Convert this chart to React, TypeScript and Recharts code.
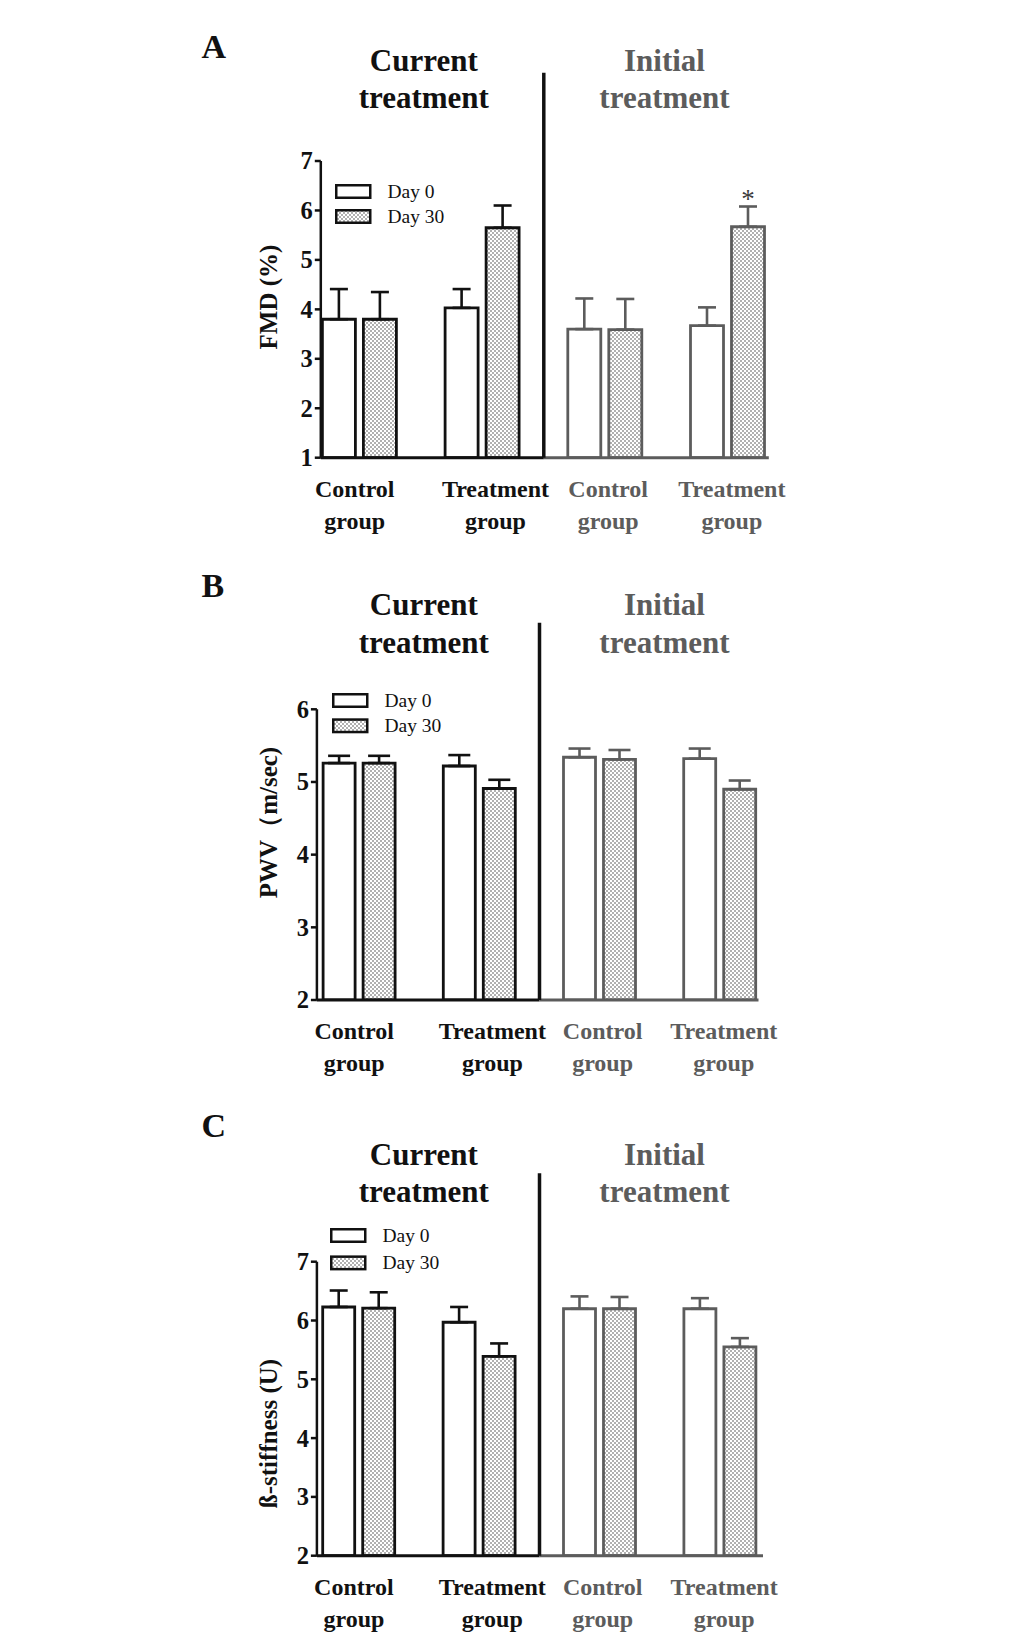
import React from 'react';
import { BarChart, Bar, XAxis, YAxis, Cell, ErrorBar, ReferenceLine, Legend, LabelList } from 'recharts';

const FONT = "'Liberation Serif', 'Times New Roman', Times, serif";
const INK = '#111111';
const GREY = '#5c5c5c';

// categories shared by the three panels
const categories = ['curControl', 'curTreatment', 'iniControl', 'iniTreatment'];
const categoryLines = [['Control', 'group'], ['Treatment', 'group'], ['Control', 'group'], ['Treatment', 'group']];
const categoryPhase = ['current', 'current', 'initial', 'initial'];
const phaseTitles = [['Current', 'treatment'], ['Initial', 'treatment']];
const seriesNames = ['Day 0', 'Day 30'];

// A: FMD (%)
const fmdTicks = [1, 2, 3, 4, 5, 6, 7];
const fmdDay0 = [3.8, 4.03, 3.6, 3.67];
const fmdDay0Err = [0.61, 0.38, 0.62, 0.37];
const fmdDay30 = [3.8, 5.65, 3.59, 5.67];
const fmdDay30Err = [0.55, 0.45, 0.62, 0.41];
const fmdMarks = ['', '', '', '*'];

// B: PWV (m/sec)
const pwvTicks = [2, 3, 4, 5, 6];
const pwvDay0 = [5.26, 5.22, 5.34, 5.32];
const pwvDay0Err = [0.1, 0.15, 0.12, 0.14];
const pwvDay30 = [5.26, 4.91, 5.31, 4.9];
const pwvDay30Err = [0.1, 0.12, 0.13, 0.12];
const pwvMarks = ['', '', '', ''];

// C: beta-stiffness (U)
const stiffTicks = [2, 3, 4, 5, 6, 7];
const stiffDay0 = [6.23, 5.97, 6.2, 6.2];
const stiffDay0Err = [0.28, 0.26, 0.21, 0.18];
const stiffDay30 = [6.21, 5.39, 6.2, 5.55];
const stiffDay30Err = [0.27, 0.22, 0.2, 0.15];
const stiffMarks = ['', '', '', ''];

// label nudges (px) and title centres
const LABEL_DX = [-5, 13, 3, 4];
const TITLE_X = [423.8, 664.5];

const layoutA = {
  top: 0, height: 560, plotTop: 161, plotBottom: 457.7, plotLeft: 320.8, plotRight: 768.8,
  bandStart: 298.4, bandEnd: 789.2, dividerTop: 72.7, titleBase: 70.7, letterBase: 58,
  legendX: 335.4, legendY: 183.5, legendGap: 25, yTitleX: 268.8, yTitleY: 297, barSize: 33, cap: 9,
};
const layoutB = {
  top: 560, height: 540, plotTop: 149.3, plotBottom: 440, plotLeft: 316.9, plotRight: 758.5,
  bandStart: 299.1, bandEnd: 779.9, dividerTop: 62.7, titleBase: 55, letterBase: 36.7,
  legendX: 331.5, legendY: 132.7, legendGap: 25.3, yTitleX: 268.8, yTitleY: 262.5, barSize: 32, cap: 11,
};
const layoutC = {
  top: 1100, height: 544, plotTop: 161.7, plotBottom: 455.7, plotLeft: 316.9, plotRight: 763,
  bandStart: 298.7, bandEnd: 780.3, dividerTop: 73.3, titleBase: 64.8, letterBase: 37.4,
  legendX: 329.6, legendY: 128.1, legendGap: 27.4, yTitleX: 268.8, yTitleY: 333.5, barSize: 32, cap: 9,
};

function buildRows(d0: number[], e0: number[], d30: number[], e30: number[], marks: string[]) {
  return categories.map((cat, i) => {
    const cur = categoryPhase[i] === 'current';
    return {
      cat,
      day0: d0[i],
      day30: d30[i],
      e0Cur: cur ? [0, e0[i]] : null,
      e0Ini: cur ? null : [0, e0[i]],
      e30Cur: cur ? [0, e30[i]] : null,
      e30Ini: cur ? null : [0, e30[i]],
      mark: marks[i],
    };
  });
}

const colorOf = (i: number) => (categoryPhase[i] === 'current' ? INK : GREY);

function CategoryTick(props: any) {
  const { x, y, payload } = props;
  const i = categories.indexOf(payload.value);
  const cx = x + LABEL_DX[i];
  const style = { fontFamily: FONT, fontSize: 24, fontWeight: 700, fill: colorOf(i) };
  return (
    <g>
      <text x={cx} y={y + 39} textAnchor="middle" style={style}>{categoryLines[i][0]}</text>
      <text x={cx} y={y + 71} textAnchor="middle" style={style}>{categoryLines[i][1]}</text>
    </g>
  );
}

function ValueTick(props: any) {
  const { x, y, payload } = props;
  return (
    <text x={x} y={y} dy={8.4} textAnchor="end"
      style={{ fontFamily: FONT, fontSize: 24.5, fontWeight: 700, fill: INK }}>
      {payload.value}
    </text>
  );
}

function LegendBox({ gap, patternId }: { gap: number; patternId: string }) {
  const textStyle = { fontFamily: FONT, fontSize: 19.5, fill: INK };
  return (
    <svg width={140} height={60} style={{ display: 'block', overflow: 'visible' }}>
      {seriesNames.map((name, k) => (
        <g key={name}>
          <rect x={7.25} y={7.25 + k * gap} width={34} height={12.5}
            fill={k === 0 ? '#fff' : `url(#${patternId})`} stroke={INK} strokeWidth={2.5} />
          <text x={58.5} y={20 + k * gap} style={textStyle}>{name}</text>
        </g>
      ))}
    </svg>
  );
}

function Panel({ p }: { p: any }) {
  const L = p.layout;
  const rows = buildRows(p.day0, p.day0Err, p.day30, p.day30Err, p.marks);
  const yMin = p.ticks[0];
  const yMax = p.ticks[p.ticks.length - 1];
  const unit = (yMax - yMin) / (L.plotBottom - L.plotTop);
  const dividerTopVal = yMin + (L.plotBottom - L.dividerTop) * unit;
  // deco axis: 0..3 = centres of the four category bands
  const bw = (L.bandEnd - L.bandStart) / 4;
  const c0 = L.bandStart + bw / 2;
  const c3 = L.bandEnd - bw / 2;
  const axisStart = (L.plotLeft - c0) / bw;
  const axisEnd = (L.plotRight - c0) / bw;
  const pad = { left: L.bandStart - L.plotLeft, right: L.plotRight - L.bandEnd };
  const decoPad = { left: c0 - L.plotLeft, right: L.plotRight - c3 };
  const patternId = `dots-${p.letter}`;
  const titleStyle = { fontFamily: FONT, fontSize: 31, fontWeight: 700 };

  return (
    <div style={{ position: 'absolute', left: 0, top: L.top }}>
      <BarChart
        width={1033}
        height={L.height}
        data={rows}
        barGap={8}
        margin={{ top: L.plotTop, left: L.plotLeft - 60, right: 1033 - L.plotRight, bottom: 0 }}
      >
        <defs>
          <pattern id={patternId} width={4} height={4} patternUnits="userSpaceOnUse">
            <rect width={4} height={4} fill="#fff" />
            <circle cx={1} cy={1} r={0.75} fill="#3a3a3a" />
            <circle cx={3} cy={3} r={0.75} fill="#3a3a3a" />
          </pattern>
        </defs>

        <XAxis dataKey="cat" interval={0} padding={pad} height={L.height - L.plotBottom}
          axisLine={false} tickLine={false} tickSize={0} tickMargin={0} tick={<CategoryTick />} />
        <XAxis xAxisId="deco" type="number" domain={[0, 3]} allowDataOverflow hide padding={decoPad} />
        <YAxis
          domain={[yMin, yMax]}
          ticks={p.ticks}
          interval={0}
          allowDataOverflow
          width={60}
          axisLine={{ stroke: INK, strokeWidth: 2.5 }}
          tickLine={{ stroke: INK, strokeWidth: 2.5 }}
          tickSize={6}
          tickMargin={2}
          tick={<ValueTick />}
        />

        <Legend
          layout="horizontal"
          verticalAlign="middle"
          align="center"
          wrapperStyle={{ position: 'absolute', left: L.legendX - 6, top: L.legendY - 6, width: 140, height: 60 }}
          content={() => <LegendBox gap={L.legendGap} patternId={patternId} />}
        />

        <Bar dataKey="day0" name={seriesNames[0]} barSize={L.barSize} strokeWidth={2.8} isAnimationActive={false}>
          {rows.map((r, i) => <Cell key={r.cat} fill="#fff" stroke={colorOf(i)} />)}
          <ErrorBar dataKey="e0Cur" direction="y" width={L.cap} stroke={INK} strokeWidth={2.6} isAnimationActive={false} />
          <ErrorBar dataKey="e0Ini" direction="y" width={L.cap} stroke={GREY} strokeWidth={2.6} isAnimationActive={false} />
        </Bar>
        <Bar dataKey="day30" name={seriesNames[1]} barSize={L.barSize} strokeWidth={2.8} isAnimationActive={false}>
          {rows.map((r, i) => <Cell key={r.cat} fill={`url(#${patternId})`} stroke={colorOf(i)} />)}
          <ErrorBar dataKey="e30Cur" direction="y" width={L.cap} stroke={INK} strokeWidth={2.6} isAnimationActive={false} />
          <ErrorBar dataKey="e30Ini" direction="y" width={L.cap} stroke={GREY} strokeWidth={2.6} isAnimationActive={false} />
          <LabelList
            dataKey="mark"
            content={(lp: any) =>
              lp.value ? (
                <text x={Number(lp.x) + Number(lp.width) / 2} y={Number(lp.y) - 19} textAnchor="middle"
                  style={{ fontFamily: FONT, fontSize: 27, fill: '#3c3c3c' }}>{lp.value}</text>
              ) : null
            }
          />
        </Bar>

        {/* x axis: black under current treatment, grey under initial treatment */}
        <ReferenceLine xAxisId="deco" ifOverflow="visible" stroke={INK} strokeWidth={3}
          segment={[{ x: axisStart, y: yMin }, { x: 1.5, y: yMin }]} />
        <ReferenceLine xAxisId="deco" ifOverflow="visible" stroke={GREY} strokeWidth={3}
          segment={[{ x: 1.5, y: yMin }, { x: axisEnd, y: yMin }]} />
        {/* divider between the two halves */}
        <ReferenceLine xAxisId="deco" ifOverflow="visible" stroke={INK} strokeWidth={3.5}
          segment={[{ x: 1.5, y: yMin }, { x: 1.5, y: dividerTopVal }]} />

        <text x={201.5} y={L.letterBase} style={{ fontFamily: FONT, fontSize: 34, fontWeight: 700, fill: INK }}>
          {p.letter}
        </text>
        {phaseTitles.map((lines, k) => (
          <g key={k} style={{ ...titleStyle, fill: k === 0 ? INK : GREY }}>
            <text x={TITLE_X[k]} y={L.titleBase} textAnchor="middle">{lines[0]}</text>
            <text x={TITLE_X[k]} y={L.titleBase + 37.5} textAnchor="middle">{lines[1]}</text>
          </g>
        ))}
        <text
          x={L.yTitleX}
          y={L.yTitleY}
          textAnchor="middle"
          dominantBaseline="central"
          transform={`rotate(-90 ${L.yTitleX} ${L.yTitleY})`}
          style={{ fontFamily: FONT, fontSize: 25, fontWeight: 700, fill: INK }}
        >
          {p.yTitle}
        </text>
      </BarChart>
    </div>
  );
}

const panels = [
  { letter: 'A', yTitle: 'FMD (%)', ticks: fmdTicks, day0: fmdDay0, day0Err: fmdDay0Err, day30: fmdDay30, day30Err: fmdDay30Err, marks: fmdMarks, layout: layoutA },
  { letter: 'B', yTitle: 'PWV（m/sec)', ticks: pwvTicks, day0: pwvDay0, day0Err: pwvDay0Err, day30: pwvDay30, day30Err: pwvDay30Err, marks: pwvMarks, layout: layoutB },
  { letter: 'C', yTitle: 'ß-stiffness (U)', ticks: stiffTicks, day0: stiffDay0, day0Err: stiffDay0Err, day30: stiffDay30, day30Err: stiffDay30Err, marks: stiffMarks, layout: layoutC },
];

export default function App() {
  return (
    <div style={{ position: 'absolute', left: 0, top: 0, width: 1033, height: 1644, background: '#fff' }}>
      {panels.map((p) => <Panel key={p.letter} p={p} />)}
    </div>
  );
}
